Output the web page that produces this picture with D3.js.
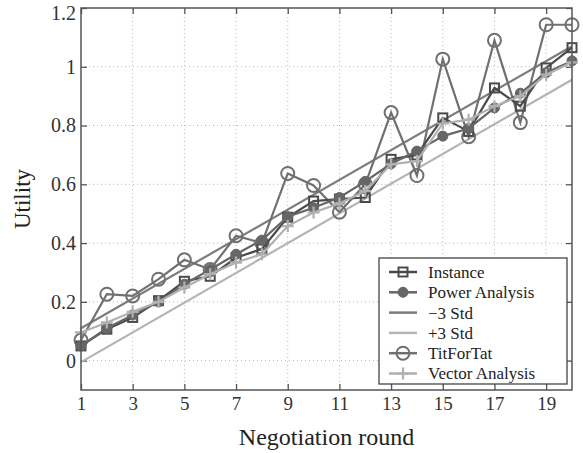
<!DOCTYPE html>
<html>
<head>
<meta charset="utf-8">
<script src="https://cdn.jsdelivr.net/npm/d3@7"></script>
<style>
  body { margin: 0; background: #fff; }
  text { font-family: "Liberation Serif", "DejaVu Serif", serif; }
</style>
</head>
<body>
<div id="chart"></div>
<script>
// negotiation rounds 1..20
const rounds = d3.range(1, 21);

const instance      = [0.05, 0.107, 0.147, 0.204, 0.27, 0.287, 0.35, 0.38, 0.488, 0.543, 0.55, 0.555, 0.685, 0.70, 0.826, 0.78, 0.928, 0.866, 0.996, 1.065];
const powerAnalysis = [0.05, 0.11, 0.155, 0.2, 0.26, 0.31, 0.362, 0.41, 0.49, 0.52, 0.555, 0.61, 0.67, 0.713, 0.764, 0.79, 0.86, 0.91, 0.98, 1.02];
const titForTat     = [0.07, 0.226, 0.22, 0.277, 0.343, 0.31, 0.425, 0.40, 0.637, 0.596, 0.505, 0.60, 0.844, 0.63, 1.026, 0.762, 1.09, 0.81, 1.143, 1.143];
const vectorAnalysis= [0.096, 0.13, 0.166, 0.2, 0.249, 0.294, 0.334, 0.362, 0.458, 0.504, 0.535, 0.577, 0.668, 0.679, 0.807, 0.82, 0.866, 0.9, 0.973, 1.015];
// std bands are straight lines, given by their end points
const minus3Std = [[1, 0.11], [20, 1.07]];
const plus3Std  = [[1, -0.005], [20, 0.956]];

const xTicks = [1, 3, 5, 7, 9, 11, 13, 15, 17, 19];
const yTicks = [0, 0.2, 0.4, 0.6, 0.8, 1, 1.2];

const width = 583, height = 453;
const margin = {top: 8, right: 11, bottom: 63, left: 81};

const svg = d3.select('#chart').append('svg')
    .attr('width', width)
    .attr('height', height);

const x = d3.scaleLinear().domain([1, 20]).range([margin.left, width - margin.right]);
const y = d3.scaleLinear().domain([-0.1, 1.2]).range([height - margin.bottom, margin.top]);

// grid
svg.append('g').selectAll('line.gx')
    .data(xTicks.slice(1))
    .enter().append('line')
    .attr('x1', d => x(d)).attr('x2', d => x(d))
    .attr('y1', y(-0.1)).attr('y2', y(1.2))
    .attr('stroke', '#b8b8b8').attr('stroke-width', 1).attr('stroke-dasharray', '1,3');
svg.append('g').selectAll('line.gy')
    .data(yTicks.slice(0, -1))
    .enter().append('line')
    .attr('x1', x(1)).attr('x2', x(20))
    .attr('y1', d => y(d)).attr('y2', d => y(d))
    .attr('stroke', '#b8b8b8').attr('stroke-width', 1).attr('stroke-dasharray', '1,3');

// axes
const fmt = d => d3.format('')(+d.toFixed(1));
const axisCol = '#555';
function styleAxis(g, size) {
    g.select('.domain').remove();
    g.selectAll('.tick line').attr('stroke', axisCol).attr('stroke-width', 1.3);
    g.selectAll('.tick text').attr('fill', '#333').attr('font-size', size)
        .attr('font-family', '"Liberation Serif", serif');
}
svg.append('g')
    .attr('transform', 'translate(0,' + y(-0.1) + ')')
    .call(d3.axisBottom(x).tickValues(xTicks).tickSize(-6).tickPadding(7))
    .call(styleAxis, '19px');
svg.append('g')
    .attr('transform', 'translate(0,' + y(1.2) + ')')
    .call(d3.axisTop(x).tickValues(xTicks).tickSize(-6).tickFormat(''))
    .call(styleAxis, '19px');
const yAxisG = svg.append('g')
    .attr('transform', 'translate(' + x(1) + ',0)')
    .call(d3.axisLeft(y).tickValues(yTicks).tickSize(-6).tickPadding(5).tickFormat(fmt))
    .call(styleAxis, '20px');
// top label sits at the page edge; keep it just inside
yAxisG.selectAll('.tick text').filter(d => d === 1.2).attr('dy', '0.55em');
svg.append('g')
    .attr('transform', 'translate(' + x(20) + ',0)')
    .call(d3.axisRight(y).tickValues(yTicks).tickSize(-6).tickFormat(''))
    .call(styleAxis, '19px');

const line = d3.line().x(d => x(d[0])).y(d => y(d[1]));
const pairs = vals => vals.map((v, i) => [rounds[i], v]);

const series = [
    {name: 'Instance', data: pairs(instance), color: '#4a4a4a', marker: 'square'},
    {name: 'Power Analysis', data: pairs(powerAnalysis), color: '#666666', marker: 'dot'},
    {name: '\u22123 Std', data: minus3Std, color: '#7c7c7c', marker: 'none'},
    {name: '+3 Std', data: plus3Std, color: '#b4b4b4', marker: 'none'},
    {name: 'TitForTat', data: pairs(titForTat), color: '#707070', marker: 'circle'},
    {name: 'Vector Analysis', data: pairs(vectorAnalysis), color: '#b0b0b0', marker: 'plus'}
];

function drawMarker(g, type, cx, cy, color) {
    if (type === 'square') {
        g.append('rect').attr('x', cx - 4.5).attr('y', cy - 4.5).attr('width', 9).attr('height', 9)
            .attr('fill', 'none').attr('stroke', color).attr('stroke-width', 2);
    } else if (type === 'dot') {
        g.append('circle').attr('cx', cx).attr('cy', cy).attr('r', 5)
            .attr('fill', color).attr('stroke', color).attr('stroke-width', 1);
    } else if (type === 'circle') {
        g.append('circle').attr('cx', cx).attr('cy', cy).attr('r', 6.5)
            .attr('fill', 'none').attr('stroke', color).attr('stroke-width', 2);
    } else if (type === 'plus') {
        g.append('path').attr('d', 'M' + (cx - 6) + ',' + cy + 'H' + (cx + 6) + 'M' + cx + ',' + (cy - 6) + 'V' + (cy + 6))
            .attr('stroke', color).attr('stroke-width', 2.2);
    }
}

const plot = svg.append('g');
// drawing order: bottom to top
const order = ['+3 Std', '\u22123 Std', 'TitForTat', 'Instance', 'Power Analysis', 'Vector Analysis'];
order.forEach(nm => {
    const s = series.find(d => d.name === nm);
    const g = plot.append('g');
    g.append('path').datum(s.data).attr('d', line)
        .attr('fill', 'none').attr('stroke', s.color).attr('stroke-width', 2.2);
    if (s.marker !== 'none') {
        s.data.forEach(d => drawMarker(g, s.marker, x(d[0]), y(d[1]), s.color));
    }
});

// frame
svg.append('rect')
    .attr('x', x(1)).attr('y', y(1.2))
    .attr('width', x(20) - x(1)).attr('height', y(-0.1) - y(1.2))
    .attr('fill', 'none').attr('stroke', axisCol).attr('stroke-width', 1.5);

// legend
const legend = svg.append('g').attr('transform', 'translate(379,258)');
legend.append('rect').attr('width', 188).attr('height', 126)
    .attr('fill', '#fff').attr('stroke', '#444').attr('stroke-width', 1.3);
series.forEach((s, i) => {
    const ly = 14 + i * 20.3;
    const row = legend.append('g');
    row.append('line').attr('x1', 10).attr('x2', 38).attr('y1', ly).attr('y2', ly)
        .attr('stroke', s.color).attr('stroke-width', 2.5);
    drawMarker(row, s.marker, 24, ly, s.color);
    row.append('text').attr('x', 49).attr('y', ly).attr('dy', '0.35em')
        .attr('font-size', '17px').attr('fill', '#222').text(s.name);
});

// axis titles
svg.append('text')
    .attr('x', (x(1) + x(20)) / 2).attr('y', 445)
    .attr('text-anchor', 'middle').attr('font-size', '24px').attr('fill', '#222')
    .text('Negotiation round');
svg.append('text')
    .attr('transform', 'translate(30,' + ((y(-0.1) + y(1.2)) / 2) + ') rotate(-90)')
    .attr('text-anchor', 'middle').attr('font-size', '23px').attr('fill', '#222')
    .text('Utility');
</script>
</body>
</html>
